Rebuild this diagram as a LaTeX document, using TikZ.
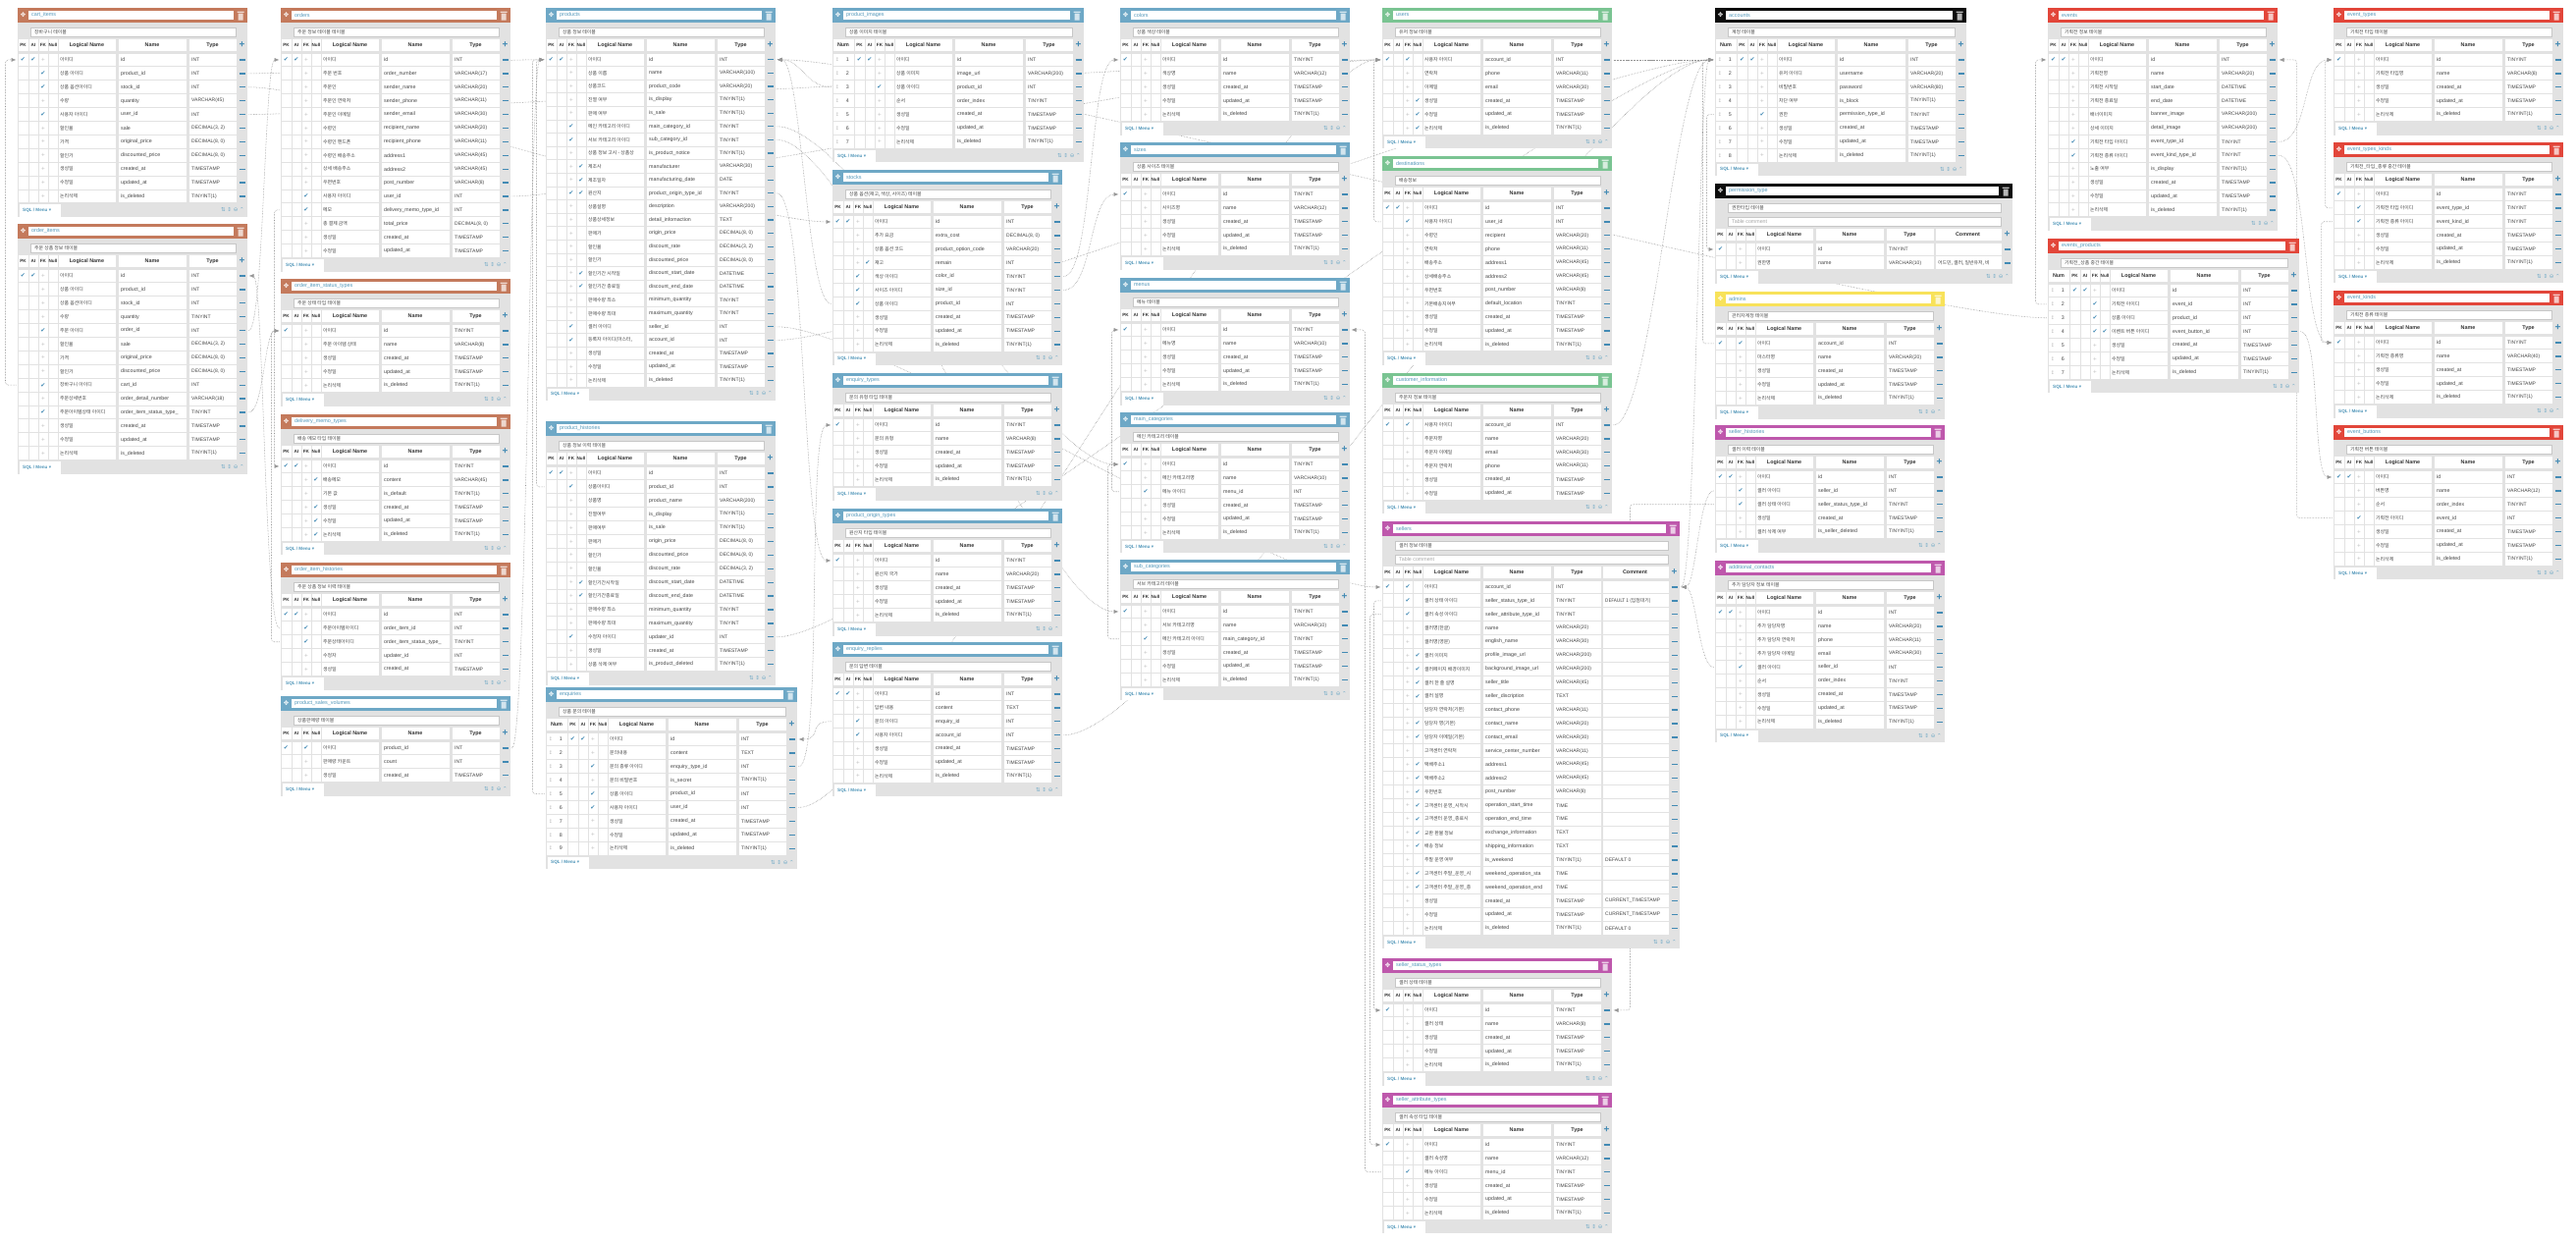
\documentclass[tikz,border=0pt]{standalone}
\usepackage{fontspec}
\setmainfont{Liberation Sans}
\newfontfamily\kr{Noto Sans CJK KR}
\newfontfamily\sym{DejaVu Sans}
\usetikzlibrary{arrows.meta,backgrounds}

\definecolor{hbrown}{RGB}{196,122,92}
\definecolor{hblue}{RGB}{110,168,198}
\definecolor{hgreen}{RGB}{122,196,146}
\definecolor{hpink}{RGB}{190,88,172}
\definecolor{hblack}{RGB}{12,12,12}
\definecolor{hyellow}{RGB}{248,226,90}
\definecolor{hred}{RGB}{226,70,58}
\definecolor{tabgrey}{RGB}{226,226,226}
\definecolor{celltext}{RGB}{70,70,70}
\definecolor{keyblue}{RGB}{66,138,180}
\definecolor{namecol}{RGB}{80,150,185}
\definecolor{fkgrey}{RGB}{150,150,150}

\tikzset{
  cell/.style={inner sep=0pt, anchor=west, text=celltext, font=\fontsize{5.3}{6}\selectfont},
  krcell/.style={cell, font=\kr\fontsize{4.9}{6}\selectfont},
  typecell/.style={cell, font=\fontsize{5}{6}\selectfont},
  colhead/.style={inner sep=0pt, text=black!80, font=\bfseries\fontsize{5.4}{6}\selectfont},
  smallhead/.style={colhead, font=\bfseries\fontsize{4.6}{6}\selectfont},
  tick/.style={inner sep=0pt, text=keyblue, font=\sym\fontsize{6}{6}\selectfont},
  faint/.style={inner sep=0pt, text=black!25, font=\sym\fontsize{5}{6}\selectfont},
  movebtn/.style={inner sep=0pt, text=white, font=\sym\fontsize{6.5}{6}\selectfont},
  tabname/.style={inner sep=0pt, anchor=west, text=namecol, font=\fontsize{5.4}{6}\selectfont},
  commentbox/.style={fill=white, draw=black!22, line width=.4pt},
  minus/.style={keyblue, line width=1.3pt},
  fk/.style={draw=fkgrey, densely dotted, line width=.55pt, -{Latex[length=5pt,width=4pt]}},
}

\def\rh{13.9}
% \erdtable{name}{x}{y}{bar colour}{num width}{comment width}{table comment}{rows pk/ai/fk/null/logical/name/type}
\newcommand{\erdtable}[8]{%
  \foreach \rr [count=\cnt] in {#8} {\xdef\nrows{\cnt}}%
  \begin{scope}[shift={(#2,#3)}]
    \pgfmathsetmacro{\W}{#5+234+#6}
    \pgfmathsetmacro{\tc}{(#6>0)*14}
    \pgfmathsetmacro{\yh}{31+\tc}
    \pgfmathsetmacro{\yr}{46+\tc}
    \pgfmathsetmacro{\yf}{\yr+\nrows*\rh}
    \pgfmathsetmacro{\yb}{\yf+14}
    % frame and title bar
    \fill[tabgrey] (0,15) rectangle (\W,\yb);
    \fill[#4] (0,0) rectangle (\W,15);
    \node[movebtn] at (5.5,7.5) {✥};
    \fill[white] (11,3) rectangle (\W-14,12);
    \node[tabname] (#1-title) at (14,7.5) {#1};
    \fill[white,opacity=.7] (\W-10.5,3.5) rectangle (\W-3.5,4.8) (\W-9.5,5.6) rectangle (\W-4.5,12.5);
    % comments
    \filldraw[commentbox] (13,20) rectangle (\W-12,29);
    \node[krcell] at (17,24.5) {#7};
    \ifnum#6>0
      \filldraw[commentbox] (13,34) rectangle (\W-12,43);
      \node[cell,text=black!35] at (17,38.5) {Table comment};
    \fi
    % column titles
    \foreach \a/\b in {#5/#5+11,#5+11/#5+21,#5+21/#5+31,#5+31/#5+41,#5+41/#5+100,#5+102/#5+172,#5+174/#5+223}
      \fill[white] (\a+.5,\yh+.5) rectangle (\b-.5,\yh+13);
    \ifnum#5>0
      \fill[white] (.5,\yh+.5) rectangle (#5-.5,\yh+13);
      \node[colhead] at (#5/2,\yh+7) {Num};
    \fi
    \ifnum#6>0
      \fill[white] (#5+224.5,\yh+.5) rectangle (#5+223+#6-.5,\yh+13);
      \node[colhead] at (#5+223+#6/2,\yh+7) {Comment};
    \fi
    \node[smallhead] at (#5+5.5,\yh+7) {PK};
    \node[smallhead] at (#5+16,\yh+7) {AI};
    \node[smallhead] at (#5+26,\yh+7) {FK};
    \node[smallhead] at (#5+36,\yh+7) {Null};
    \node[colhead] at (#5+70.5,\yh+7) {Logical Name};
    \node[colhead] at (#5+137,\yh+7) {Name};
    \node[colhead] at (#5+198.5,\yh+7) {Type};
    \node[inner sep=0, text=keyblue, font=\bfseries\fontsize{10}{10}\selectfont] at (\W-5.5,\yh+6.5) {+};
    % rows
    \foreach \pk/\ai/\fk/\nl/\lgn/\nme/\typ [count=\i] in {#8} {
      \pgfmathsetmacro{\yt}{\yr+(\i-1)*\rh}
      \pgfmathsetmacro{\yc}{\yt+\rh/2}
      \foreach \a/\b in {#5/#5+11,#5+11/#5+21,#5+21/#5+31,#5+31/#5+41,#5+41/#5+100,#5+102/#5+172,#5+174/#5+223}
        \fill[white] (\a+.5,\yt+.5) rectangle (\b-.5,\yt+\rh-.5);
      \ifnum#5>0
        \fill[white] (.5,\yt+.5) rectangle (#5-.5,\yt+\rh-.5);
        \node[faint] at (5,\yc) {↕};
        \node[cell,anchor=east] at (17,\yc) {\i};
      \fi
      \ifnum#6>0
        \fill[white] (#5+224.5,\yt+.5) rectangle (#5+223+#6-.5,\yt+\rh-.5);
      \fi
      \ifnum\pk=1 \node[tick] at (#5+5.5,\yc) {✔};\fi
      \ifnum\ai=1 \node[tick] at (#5+16,\yc) {✔};\fi
      \ifnum\fk=1 \node[tick] at (#5+26,\yc) {✔};\else \node[faint] at (#5+26,\yc) {+};\fi
      \ifnum\nl=1 \node[tick] at (#5+36,\yc) {✔};\fi
      \node[krcell] at (#5+43,\yc) {\lgn};
      \node[cell] at (#5+105,\yc) {\nme};
      \node[typecell] at (#5+177,\yc) {\typ};
      \draw[minus] (\W-8.5,\yc) -- (\W-2.5,\yc);
      \coordinate (#1-\i-l) at (-1.5,\yc);
      \coordinate (#1-\i-r) at (\W+1.5,\yc);
      \coordinate (#1-\i-c) at (#5+227,\yc);
    }
    % footer
    \fill[white] (2,\yf+1.5) rectangle (44,\yb);
    \node[inner sep=0, anchor=west, text=namecol, font=\bfseries\fontsize{4.6}{6}\selectfont] at (5,\yf+7.5) {SQL / Menu {\sym▾}};
    \node[inner sep=0, anchor=east, text=namecol!80, font=\sym\fontsize{5.5}{6}\selectfont] at (\W-3,\yf+7) {⇅ ⇕ ⊖ ⌃};
  \end{scope}
}

\begin{document}
\catcode`\_=12
\begin{tikzpicture}[x=1pt,y=-1pt]
\begin{pgfonlayer}{background}
  \fill[white] (0,0) rectangle (2624,1266);
\end{pgfonlayer}
\useasboundingbox (0,0) rectangle (2624,1266);

% ---- orders side
\erdtable{cart_items}{18}{8}{hbrown}{0}{0}{장바구니 테이블}{
  1/1/0/0/아이디/id/INT,
  0/0/1/0/상품 아이디/product_id/INT,
  0/0/1/0/상품 옵션아이디/stock_id/INT,
  0/0/0/0/수량/quantity/VARCHAR(45),
  0/0/1/0/사용자 아이디/user_id/INT,
  0/0/0/0/할인율/sale/{DECIMAL(3, 2)},
  0/0/0/0/가격/original_price/{DECIMAL(8, 0)},
  0/0/0/0/할인가/discounted_price/{DECIMAL(8, 0)},
  0/0/0/0/생성일/created_at/TIMESTAMP,
  0/0/0/0/수정일/updated_at/TIMESTAMP,
  0/0/0/0/논리삭제/is_deleted/TINYINT(1)}
\erdtable{order_items}{18}{228}{hbrown}{0}{0}{주문 상품 정보 테이블}{
  1/1/0/0/아이디/id/INT,
  0/0/0/0/상품 아이디/product_id/INT,
  0/0/0/0/상품 옵션아이디/stock_id/INT,
  0/0/0/0/수량/quantity/TINYINT,
  0/0/1/0/주문 아이디/order_id/INT,
  0/0/0/0/할인율/sale/{DECIMAL(3, 2)},
  0/0/0/0/가격/original_price/{DECIMAL(8, 0)},
  0/0/0/0/할인가/discounted_price/{DECIMAL(8, 0)},
  0/0/1/0/장바구니 아이디/cart_id/INT,
  0/0/0/0/주문상세번호/order_detail_number/VARCHAR(18),
  0/0/1/0/주문아이템상태 아이디/order_item_status_type_/TINYINT,
  0/0/0/0/생성일/created_at/TIMESTAMP,
  0/0/0/0/수정일/updated_at/TIMESTAMP,
  0/0/0/0/논리삭제/is_deleted/TINYINT(1)}
\erdtable{orders}{286}{8}{hbrown}{0}{0}{주문 정보 테이블 테이블}{
  1/1/0/0/아이디/id/INT,
  0/0/0/0/주문 번호/order_number/VARCHAR(17),
  0/0/0/0/주문인/sender_name/VARCHAR(20),
  0/0/0/0/주문인 연락처/sender_phone/VARCHAR(11),
  0/0/0/0/주문인 이메일/sender_email/VARCHAR(30),
  0/0/0/0/수령인/recipient_name/VARCHAR(20),
  0/0/0/0/수령인 핸드폰/recipient_phone/VARCHAR(11),
  0/0/0/0/수령인 배송주소/address1/VARCHAR(45),
  0/0/0/0/상세 배송주소/address2/VARCHAR(45),
  0/0/0/0/우편번호/post_number/VARCHAR(8),
  0/0/1/0/사용자 아이디/user_id/INT,
  0/0/1/0/메모/delivery_memo_type_id/INT,
  0/0/0/0/총 결제 금액/total_price/{DECIMAL(8, 0)},
  0/0/0/0/생성일/created_at/TIMESTAMP,
  0/0/0/0/수정일/updated_at/TIMESTAMP}
\erdtable{order_item_status_types}{286}{284}{hbrown}{0}{0}{주문 상태 타입 테이블}{
  1/0/0/0/아이디/id/TINYINT,
  0/0/0/0/주문 아이템 상태/name/VARCHAR(8),
  0/0/0/0/생성일/created_at/TIMESTAMP,
  0/0/0/0/수정일/updated_at/TIMESTAMP,
  0/0/0/0/논리삭제/is_deleted/TINYINT(1)}
\erdtable{delivery_memo_types}{286}{422}{hbrown}{0}{0}{배송 메모 타입 테이블}{
  1/1/0/0/아이디/id/TINYINT,
  0/0/0/1/배송메모/content/VARCHAR(45),
  0/0/0/0/기본 값/is_default/TINYINT(1),
  0/0/0/1/생성일/created_at/TIMESTAMP,
  0/0/0/1/수정일/updated_at/TIMESTAMP,
  0/0/0/1/논리삭제/is_deleted/TINYINT(1)}
\erdtable{order_item_histories}{286}{573}{hbrown}{0}{0}{주문 상품 정보 이력 테이블}{
  1/1/0/0/아이디/id/INT,
  0/0/1/0/주문아이템아이디/order_item_id/INT,
  0/0/1/0/주문상태아이디/order_item_status_type_/TINYINT,
  0/0/0/0/수정자/updater_id/INT,
  0/0/0/0/생성일/created_at/TIMESTAMP}
\erdtable{product_sales_volumes}{286}{709}{hblue}{0}{0}{상품판매량 테이블}{
  1/0/1/0/아이디/product_id/INT,
  0/0/0/0/판매량 카운트/count/INT,
  0/0/0/0/생성일/created_at/TIMESTAMP}

% ---- products side
\def\rh{13.6}
\erdtable{products}{556}{8}{hblue}{0}{0}{상품 정보 테이블}{
  1/1/0/0/아이디/id/INT,
  0/0/0/0/상품 이름/name/VARCHAR(100),
  0/0/0/0/상품코드/product_code/VARCHAR(20),
  0/0/0/0/진열 여부/is_display/TINYINT(1),
  0/0/0/0/판매 여부/is_sale/TINYINT(1),
  0/0/1/0/메인 카테고리 아이디/main_category_id/TINYINT,
  0/0/1/0/서브 카테고리 아이디/sub_category_id/TINYINT,
  0/0/0/0/상품 정보 고시 - 상품상/is_product_notice/TINYINT(1),
  0/0/0/1/제조사/manufacturer/VARCHAR(30),
  0/0/0/1/제조일자/manufacturing_date/DATE,
  0/0/1/1/원산지/product_origin_type_id/TINYINT,
  0/0/0/0/상품설명/description/VARCHAR(200),
  0/0/0/0/상품상세정보/detail_infomaction/TEXT,
  0/0/0/0/판매가/origin_price/{DECIMAL(8, 0)},
  0/0/0/0/할인율/discount_rate/{DECIMAL(3, 2)},
  0/0/0/0/할인가/discounted_price/{DECIMAL(8, 0)},
  0/0/0/1/할인기간 시작일/discount_start_date/DATETIME,
  0/0/0/1/할인기간 종료일/discount_end_date/DATETIME,
  0/0/0/0/판매수량 최소/minimum_quantity/TINYINT,
  0/0/0/0/판매수량 최대/maximum_quantity/TINYINT,
  0/0/1/0/셀러 아이디/seller_id/INT,
  0/0/1/0/{등록자 아이디(마스터,}/account_id/INT,
  0/0/0/0/생성일/created_at/TIMESTAMP,
  0/0/0/0/수정일/updated_at/TIMESTAMP,
  0/0/0/0/논리삭제/is_deleted/TINYINT(1)}
\def\rh{13.9}
\erdtable{product_histories}{556}{429}{hblue}{0}{0}{상품 정보 이력 테이블}{
  1/1/0/0/아이디/id/INT,
  0/0/1/0/상품아이디/product_id/INT,
  0/0/0/0/상품명/product_name/VARCHAR(200),
  0/0/0/0/진열여부/is_display/TINYINT(1),
  0/0/0/0/판매여부/is_sale/TINYINT(1),
  0/0/0/0/판매가/origin_price/{DECIMAL(8, 0)},
  0/0/0/0/할인가/discounted_price/{DECIMAL(8, 0)},
  0/0/0/0/할인율/discount_rate/{DECIMAL(3, 2)},
  0/0/0/1/할인기간시작일/discount_start_date/DATETIME,
  0/0/0/1/할인기간종료일/discount_end_date/DATETIME,
  0/0/0/0/판매수량 최소/minimum_quantity/TINYINT,
  0/0/0/0/판매수량 최대/maximum_quantity/TINYINT,
  0/0/1/0/수정자 아이디/updater_id/INT,
  0/0/0/0/생성일/created_at/TIMESTAMP,
  0/0/0/0/상품 삭제 여부/is_product_deleted/TINYINT(1)}
\erdtable{enquiries}{556}{700}{hblue}{22}{0}{상품 문의 테이블}{
  1/1/0/0/아이디/id/INT,
  0/0/0/0/문의내용/content/TEXT,
  0/0/1/0/문의 종류 아이디/enquiry_type_id/INT,
  0/0/0/0/문의 비밀번호/is_secret/TINYINT(1),
  0/0/1/0/상품 아이디/product_id/INT,
  0/0/1/0/사용자 아이디/user_id/INT,
  0/0/0/0/생성일/created_at/TIMESTAMP,
  0/0/0/0/수정일/updated_at/TIMESTAMP,
  0/0/0/0/논리삭제/is_deleted/TINYINT(1)}
\erdtable{product_images}{848}{8}{hblue}{22}{0}{상품 이미지 테이블}{
  1/1/0/0/아이디/id/INT,
  0/0/0/0/상품 이미지/image_url/VARCHAR(200),
  0/0/1/0/상품 아이디/product_id/INT,
  0/0/0/0/순서/order_index/TINYINT,
  0/0/0/0/생성일/created_at/TIMESTAMP,
  0/0/0/0/수정일/updated_at/TIMESTAMP,
  0/0/0/0/논리삭제/is_deleted/TINYINT(1)}
\erdtable{stocks}{848}{173}{hblue}{0}{0}{상품 옵션(재고, 색상, 사이즈) 테이블}{
  1/1/0/0/아이디/id/INT,
  0/0/0/0/추가 요금/extra_cost/{DECIMAL(8, 0)},
  0/0/0/0/상품 옵션 코드/product_option_code/VARCHAR(20),
  0/0/0/1/재고/remain/INT,
  0/0/1/0/색상 아이디/color_id/TINYINT,
  0/0/1/0/사이즈 아이디/size_id/TINYINT,
  0/0/1/0/상품 아이디/product_id/INT,
  0/0/0/0/생성일/created_at/TIMESTAMP,
  0/0/0/0/수정일/updated_at/TIMESTAMP,
  0/0/0/0/논리삭제/is_deleted/TINYINT(1)}
\erdtable{enquiry_types}{848}{380}{hblue}{0}{0}{문의 유형 타입 테이블}{
  1/0/0/0/아이디/id/TINYINT,
  0/0/0/0/문의 유형/name/VARCHAR(8),
  0/0/0/0/생성일/created_at/TIMESTAMP,
  0/0/0/0/수정일/updated_at/TIMESTAMP,
  0/0/0/0/논리삭제/is_deleted/TINYINT(1)}
\erdtable{product_origin_types}{848}{518}{hblue}{0}{0}{원산지 타입 테이블}{
  1/0/0/0/아이디/id/TINYINT,
  0/0/0/0/원산지 국가/name/VARCHAR(20),
  0/0/0/0/생성일/created_at/TIMESTAMP,
  0/0/0/0/수정일/updated_at/TIMESTAMP,
  0/0/0/0/논리삭제/is_deleted/TINYINT(1)}
\erdtable{enquiry_replies}{848}{654}{hblue}{0}{0}{문의 답변 테이블}{
  1/1/0/0/아이디/id/INT,
  0/0/0/0/답변 내용/content/TEXT,
  0/0/1/0/문의 아이디/enquiry_id/INT,
  0/0/1/0/사용자 아이디/account_id/INT,
  0/0/0/0/생성일/created_at/TIMESTAMP,
  0/0/0/0/수정일/updated_at/TIMESTAMP,
  0/0/0/0/논리삭제/is_deleted/TINYINT(1)}
\erdtable{colors}{1141}{8}{hblue}{0}{0}{상품 색상 테이블}{
  1/0/0/0/아이디/id/TINYINT,
  0/0/0/0/색상명/name/VARCHAR(12),
  0/0/0/0/생성일/created_at/TIMESTAMP,
  0/0/0/0/수정일/updated_at/TIMESTAMP,
  0/0/0/0/논리삭제/is_deleted/TINYINT(1)}
\erdtable{sizes}{1141}{145}{hblue}{0}{0}{상품 사이즈 테이블}{
  1/0/0/0/아이디/id/TINYINT,
  0/0/0/0/사이즈명/name/VARCHAR(12),
  0/0/0/0/생성일/created_at/TIMESTAMP,
  0/0/0/0/수정일/updated_at/TIMESTAMP,
  0/0/0/0/논리삭제/is_deleted/TINYINT(1)}
\erdtable{menus}{1141}{283}{hblue}{0}{0}{메뉴 테이블}{
  1/0/0/0/아이디/id/TINYINT,
  0/0/0/0/메뉴명/name/VARCHAR(10),
  0/0/0/0/생성일/created_at/TIMESTAMP,
  0/0/0/0/수정일/updated_at/TIMESTAMP,
  0/0/0/0/논리삭제/is_deleted/TINYINT(1)}
\erdtable{main_categories}{1141}{420}{hblue}{0}{0}{메인 카테고리 테이블}{
  1/0/0/0/아이디/id/TINYINT,
  0/0/0/0/메인 카테고리명/name/VARCHAR(10),
  0/0/1/0/메뉴 아이디/menu_id/INT,
  0/0/0/0/생성일/created_at/TIMESTAMP,
  0/0/0/0/수정일/updated_at/TIMESTAMP,
  0/0/0/0/논리삭제/is_deleted/TINYINT(1)}
\erdtable{sub_categories}{1141}{570}{hblue}{0}{0}{서브 카테고리 테이블}{
  1/0/0/0/아이디/id/TINYINT,
  0/0/0/0/서브 카테고리명/name/VARCHAR(10),
  0/0/1/0/메인 카테고리 아이디/main_category_id/TINYINT,
  0/0/0/0/생성일/created_at/TIMESTAMP,
  0/0/0/0/수정일/updated_at/TIMESTAMP,
  0/0/0/0/논리삭제/is_deleted/TINYINT(1)}

% ---- users and sellers
\erdtable{users}{1408}{8}{hgreen}{0}{0}{유저 정보 테이블}{
  1/0/1/0/사용자 아이디/account_id/INT,
  0/0/0/0/연락처/phone/VARCHAR(11),
  0/0/0/0/이메일/email/VARCHAR(30),
  0/0/0/1/생성일/created_at/TIMESTAMP,
  0/0/0/1/수정일/updated_at/TIMESTAMP,
  0/0/0/1/논리삭제/is_deleted/TINYINT(1)}
\erdtable{destinations}{1408}{159}{hgreen}{0}{0}{배송정보}{
  1/1/0/0/아이디/id/INT,
  0/0/1/0/사용자 아이디/user_id/INT,
  0/0/0/0/수령인/recipient/VARCHAR(20),
  0/0/0/0/연락처/phone/VARCHAR(11),
  0/0/0/0/배송주소/address1/VARCHAR(45),
  0/0/0/0/상세배송주소/address2/VARCHAR(45),
  0/0/0/0/우편번호/post_number/VARCHAR(8),
  0/0/0/0/기본배송지여부/default_location/TINYINT,
  0/0/0/0/생성일/created_at/TIMESTAMP,
  0/0/0/0/수정일/updated_at/TIMESTAMP,
  0/0/0/0/논리삭제/is_deleted/TINYINT(1)}
\erdtable{customer_information}{1408}{380}{hgreen}{0}{0}{주문자 정보 테이블}{
  1/0/1/0/사용자 아이디/account_id/INT,
  0/0/0/0/주문자명/name/VARCHAR(20),
  0/0/0/0/주문자 이메일/email/VARCHAR(30),
  0/0/0/0/주문자 연락처/phone/VARCHAR(11),
  0/0/0/0/생성일/created_at/TIMESTAMP,
  0/0/0/0/수정일/updated_at/TIMESTAMP}
\erdtable{sellers}{1408}{531}{hpink}{0}{69}{셀러 정보 테이블}{
  1/0/1/0/아이디/account_id/INT,
  0/0/1/0/셀러 상태 아이디/seller_status_type_id/TINYINT,
  0/0/1/0/셀러 속성 아이디/seller_attribute_type_id/TINYINT,
  0/0/0/0/셀러명(한글)/name/VARCHAR(20),
  0/0/0/0/셀러명(영문)/english_name/VARCHAR(30),
  0/0/0/1/셀러 이미지/profile_image_url/VARCHAR(200),
  0/0/0/1/셀러페이지 배경이미지/background_image_url/VARCHAR(200),
  0/0/0/1/셀러 한 줄 설명/seller_title/VARCHAR(45),
  0/0/0/1/셀러 설명/seller_discription/TEXT,
  0/0/0/0/담당자 연락처(기본)/contact_phone/VARCHAR(11),
  0/0/0/1/담당자 명(기본)/contact_name/VARCHAR(20),
  0/0/0/1/담당자 이메일(기본)/contact_email/VARCHAR(30),
  0/0/0/0/고객센터 연락처/service_center_number/VARCHAR(11),
  0/0/0/1/택배주소1/address1/VARCHAR(45),
  0/0/0/1/택배주소2/address2/VARCHAR(45),
  0/0/0/1/우편번호/post_number/VARCHAR(8),
  0/0/0/1/고객센터 운영_시작시/operation_start_time/TIME,
  0/0/0/1/고객센터 운영_종료시/operation_end_time/TIME,
  0/0/0/1/교환 환불 정보/exchange_information/TEXT,
  0/0/0/1/배송 정보/shipping_information/TEXT,
  0/0/0/0/주말 운영 여부/is_weekend/TINYINT(1),
  0/0/0/1/고객센터 주말_운영_시/weekend_operation_sta/TIME,
  0/0/0/1/고객센터 주말_운영_종/weekend_operation_end/TIME,
  0/0/0/0/생성일/created_at/TIMESTAMP,
  0/0/0/0/수정일/updated_at/TIMESTAMP,
  0/0/0/0/논리삭제/is_deleted/TINYINT(1)}
\node[cell, font=\kr\fontsize{4.9}{6}\selectfont] at (sellers-2-c) {DEFAULT 1 (입점대기)};
\foreach \k/\t in {21/DEFAULT 0, 24/CURRENT_TIMESTAMP, 25/CURRENT_TIMESTAMP, 26/DEFAULT 0}
  \node[typecell] at (sellers-\k-c) {\t};
\erdtable{seller_status_types}{1408}{976}{hpink}{0}{0}{셀러 상태 테이블}{
  1/0/0/0/아이디/id/TINYINT,
  0/0/0/0/셀러 상태/name/VARCHAR(8),
  0/0/0/0/생성일/created_at/TIMESTAMP,
  0/0/0/0/수정일/updated_at/TIMESTAMP,
  0/0/0/0/논리삭제/is_deleted/TINYINT(1)}
\erdtable{seller_attribute_types}{1408}{1113}{hpink}{0}{0}{셀러 속성 타입 테이블}{
  1/0/0/0/아이디/id/TINYINT,
  0/0/0/0/셀러 속성명/name/VARCHAR(12),
  0/0/1/0/메뉴 아이디/menu_id/TINYINT,
  0/0/0/0/생성일/created_at/TIMESTAMP,
  0/0/0/0/수정일/updated_at/TIMESTAMP,
  0/0/0/0/논리삭제/is_deleted/TINYINT(1)}

% ---- accounts
\erdtable{accounts}{1747}{8}{hblack}{22}{0}{계정 테이블}{
  1/1/0/0/아이디/id/INT,
  0/0/0/0/유저 아이디/username/VARCHAR(20),
  0/0/0/0/비밀번호/password/VARCHAR(80),
  0/0/0/0/차단 여부/is_block/TINYINT(1),
  0/0/1/0/권한/permission_type_id/TINYINT,
  0/0/0/0/생성일/created_at/TIMESTAMP,
  0/0/0/0/수정일/updated_at/TIMESTAMP,
  0/0/0/0/논리삭제/is_deleted/TINYINT(1)}
\erdtable{permission_type}{1747}{187}{hblack}{0}{69}{권한타입 테이블}{
  1/0/0/0/아이디/id/TINYINT,
  0/0/0/0/권한명/name/VARCHAR(10)}
\node[cell, font=\kr\fontsize{4.9}{6}\selectfont] at (permission_type-2-c) {어드민, 셀러, 일반유저, 비};
\erdtable{admins}{1747}{297}{hyellow}{0}{0}{관리자계정 테이블}{
  1/0/1/0/아이디/account_id/INT,
  0/0/0/0/마스터명/name/VARCHAR(20),
  0/0/0/0/생성일/created_at/TIMESTAMP,
  0/0/0/0/수정일/updated_at/TIMESTAMP,
  0/0/0/0/논리삭제/is_deleted/TINYINT(1)}
\erdtable{seller_histories}{1747}{433}{hpink}{0}{0}{셀러 이력 테이블}{
  1/1/0/0/아이디/id/INT,
  0/0/1/0/셀러 아이디/seller_id/INT,
  0/0/1/0/셀러 상태 아이디/seller_status_type_id/TINYINT,
  0/0/0/0/생성일/created_at/TIMESTAMP,
  0/0/0/0/셀러 삭제 여부/is_seller_deleted/TINYINT(1)}
\erdtable{additional_contacts}{1747}{571}{hpink}{0}{0}{추가 담당자 정보 테이블}{
  1/1/0/0/아이디/id/INT,
  0/0/0/0/추가 담당자명/name/VARCHAR(20),
  0/0/0/0/추가 담당자 연락처/phone/VARCHAR(11),
  0/0/0/0/추가 담당자 이메일/email/VARCHAR(30),
  0/0/1/0/셀러 아이디/seller_id/INT,
  0/0/0/0/순서/order_index/TINYINT,
  0/0/0/0/생성일/created_at/TIMESTAMP,
  0/0/0/0/수정일/updated_at/TIMESTAMP,
  0/0/0/0/논리삭제/is_deleted/TINYINT(1)}

% ---- events
\erdtable{events}{2086}{8}{hred}{0}{0}{기획전 정보 테이블}{
  1/1/0/0/아이디/id/INT,
  0/0/0/0/기획전명/name/VARCHAR(20),
  0/0/0/0/기획전 시작일/start_date/DATETIME,
  0/0/0/0/기획전 종료일/end_date/DATETIME,
  0/0/0/0/배너이미지/banner_image/VARCHAR(200),
  0/0/0/0/상세 이미지/detail_image/VARCHAR(200),
  0/0/1/0/기획전 타입 아이디/event_type_id/TINYINT,
  0/0/1/0/기획전 종류 아이디/event_kind_type_id/TINYINT,
  0/0/0/0/노출 여부/is_display/TINYINT(1),
  0/0/0/0/생성일/created_at/TIMESTAMP,
  0/0/0/0/수정일/updated_at/TIMESTAMP,
  0/0/0/0/논리삭제/is_deleted/TINYINT(1)}
\erdtable{events_products}{2086}{243}{hred}{22}{0}{기획전_상품 중간 테이블}{
  1/1/0/0/아이디/id/INT,
  0/0/1/0/기획전 아이디/event_id/INT,
  0/0/1/0/상품 아이디/product_id/INT,
  0/0/1/1/이벤트 버튼 아이디/event_button_id/INT,
  0/0/0/0/생성일/created_at/TIMESTAMP,
  0/0/0/0/수정일/updated_at/TIMESTAMP,
  0/0/0/0/논리삭제/is_deleted/TINYINT(1)}
\erdtable{event_types}{2377}{8}{hred}{0}{0}{기획전 타입 테이블}{
  1/0/0/0/아이디/id/TINYINT,
  0/0/0/0/기획전 타입명/name/VARCHAR(8),
  0/0/0/0/생성일/created_at/TIMESTAMP,
  0/0/0/0/수정일/updated_at/TIMESTAMP,
  0/0/0/0/논리삭제/is_deleted/TINYINT(1)}
\erdtable{event_types_kinds}{2377}{145}{hred}{0}{0}{기획전_타입_종류 중간 테이블}{
  1/0/0/0/아이디/id/TINYINT,
  0/0/1/0/기획전 타입 아이디/event_type_id/TINYINT,
  0/0/1/0/기획전 종류 아이디/event_kind_id/TINYINT,
  0/0/0/0/생성일/created_at/TIMESTAMP,
  0/0/0/0/수정일/updated_at/TIMESTAMP,
  0/0/0/0/논리삭제/is_deleted/TINYINT(1)}
\erdtable{event_kinds}{2377}{296}{hred}{0}{0}{기획전 종류 테이블}{
  1/0/0/0/아이디/id/TINYINT,
  0/0/0/0/기획전 종류명/name/VARCHAR(40),
  0/0/0/0/생성일/created_at/TIMESTAMP,
  0/0/0/0/수정일/updated_at/TIMESTAMP,
  0/0/0/0/논리삭제/is_deleted/TINYINT(1)}
\erdtable{event_buttons}{2377}{433}{hred}{0}{0}{기획전 버튼 테이블}{
  1/1/0/0/아이디/id/INT,
  0/0/0/0/버튼명/name/VARCHAR(12),
  0/0/0/0/순서/order_index/TINYINT,
  0/0/1/0/기획전 아이디/event_id/INT,
  0/0/0/0/생성일/created_at/TIMESTAMP,
  0/0/0/0/수정일/updated_at/TIMESTAMP,
  0/0/0/0/논리삭제/is_deleted/TINYINT(1)}

% ---- relations (behind the tables)
\begin{pgfonlayer}{background}
  \draw[fk] (cart_items-2-r) .. controls +(80,0) and +(-80,0) .. (products-1-l);
  \draw[fk] (cart_items-3-r) .. controls +(90,0) and +(-90,0) .. (stocks-1-l);
  \draw[fk] (cart_items-5-r) .. controls +(100,0) and +(-100,0) .. (users-1-l);
  \draw[fk, rounded corners=3pt] (order_items-9-l) -- ++(-11,0) |- (cart_items-1-l);
  \draw[fk] (order_items-5-r) .. controls +(15,0) and +(-15,0) .. (orders-1-l);
  \draw[fk] (order_items-11-r) .. controls +(15,0) and +(-15,0) .. (order_item_status_types-1-l);
  \draw[fk] (order_item_histories-2-l) .. controls +(-15,0) and +(15,0) .. (order_items-1-r);
  \draw[fk, rounded corners=3pt] (order_item_histories-3-l) -- ++(-8,0) |- (order_item_status_types-1-l);
  \draw[fk, rounded corners=3pt] (orders-12-l) -- ++(-5,0) |- (delivery_memo_types-1-l);
  \draw[fk] (orders-11-r) .. controls +(100,0) and +(-100,0) .. (users-1-l);
  \draw[fk] (product_sales_volumes-1-r) .. controls +(15,0) and +(-15,0) .. (products-1-l);
  \draw[fk] (products-6-r) .. controls +(80,0) and +(-80,0) .. (main_categories-1-l);
  \draw[fk] (products-7-r) .. controls +(80,0) and +(-80,0) .. (sub_categories-1-l);
  \draw[fk] (products-11-r) .. controls +(30,0) and +(-30,0) .. (product_origin_types-1-l);
  \draw[fk] (products-21-r) .. controls +(100,0) and +(-100,0) .. (sellers-1-l);
  \draw[fk] (products-22-r) .. controls +(120,0) and +(-120,0) .. (accounts-1-l);
  \draw[fk, rounded corners=3pt] (product_histories-2-l) -- ++(-8,0) |- (products-1-l);
  \draw[fk] (product_histories-13-r) .. controls +(120,0) and +(-120,0) .. (accounts-1-l);
  \draw[fk] (enquiries-3-r) .. controls +(25,0) and +(-25,0) .. (enquiry_types-1-l);
  \draw[fk, rounded corners=3pt] (enquiries-5-l) -- ++(-12,0) |- (products-1-l);
  \draw[fk] (enquiries-6-r) .. controls +(100,0) and +(-100,0) .. (users-1-l);
  \draw[fk] (product_images-3-l) .. controls +(-25,0) and +(25,0) .. (products-1-r);
  \draw[fk] (stocks-5-r) .. controls +(30,0) and +(-30,0) .. (colors-1-l);
  \draw[fk] (stocks-6-r) .. controls +(30,0) and +(-30,0) .. (sizes-1-l);
  \draw[fk] (stocks-7-l) .. controls +(-25,0) and +(25,0) .. (products-1-r);
  \draw[fk] (enquiry_replies-3-l) .. controls +(-25,0) and +(25,0) .. (enquiries-1-r);
  \draw[fk] (enquiry_replies-4-r) .. controls +(120,0) and +(-120,0) .. (accounts-1-l);
  \draw[fk, rounded corners=3pt] (main_categories-3-l) -- ++(-7,0) |- (menus-1-l);
  \draw[fk, rounded corners=3pt] (sub_categories-3-l) -- ++(-11,0) |- (main_categories-1-l);
  \draw[fk] (users-1-r) .. controls +(40,0) and +(-40,0) .. (accounts-1-l);
  \draw[fk, rounded corners=3pt] (destinations-2-l) -- ++(-7,0) |- (users-1-l);
  \draw[fk] (customer_information-1-r) .. controls +(40,0) and +(-40,0) .. (accounts-1-l);
  \draw[fk] (sellers-1-r) .. controls +(15,0) and +(-15,0) .. (accounts-1-l);
  \draw[fk, rounded corners=3pt] (sellers-2-l) -- ++(-7,0) |- (seller_status_types-1-l);
  \draw[fk, rounded corners=3pt] (sellers-3-l) -- ++(-11,0) |- (seller_attribute_types-1-l);
  \draw[fk, rounded corners=3pt] (seller_attribute_types-3-l) -- ++(-16,0) |- (menus-1-r);
  \draw[fk, rounded corners=3pt] (accounts-5-l) -- ++(-7,0) |- (permission_type-1-l);
  \draw[fk, rounded corners=3pt] (admins-1-l) -- ++(-11,0) |- (accounts-1-l);
  \draw[fk] (seller_histories-2-l) .. controls +(-15,0) and +(15,0) .. (sellers-1-r);
  \draw[fk, rounded corners=3pt] (seller_histories-3-l) -| ++(-85,420) |- (seller_status_types-1-r);
  \draw[fk] (additional_contacts-5-l) .. controls +(-15,0) and +(15,0) .. (sellers-1-r);
  \draw[fk] (events-7-r) .. controls +(30,0) and +(-30,0) .. (event_types-1-l);
  \draw[fk] (events-8-r) .. controls +(30,0) and +(-30,0) .. (event_kinds-1-l);
  \draw[fk, rounded corners=3pt] (events_products-2-l) -- ++(-11,0) |- (events-1-l);
  \draw[fk] (events_products-3-l) .. controls +(-150,0) and +(150,0) .. (products-1-r);
  \draw[fk] (events_products-4-r) .. controls +(20,0) and +(-20,0) .. (event_buttons-1-l);
  \draw[fk, rounded corners=3pt] (event_types_kinds-2-l) -- ++(-7,0) |- (event_types-1-l);
  \draw[fk, rounded corners=3pt] (event_types_kinds-3-l) -- ++(-11,0) |- (event_kinds-1-l);
  \draw[fk, rounded corners=3pt] (event_buttons-4-l) -- ++(-36,0) |- (events-1-r);
\end{pgfonlayer}
\end{tikzpicture}
\end{document}
